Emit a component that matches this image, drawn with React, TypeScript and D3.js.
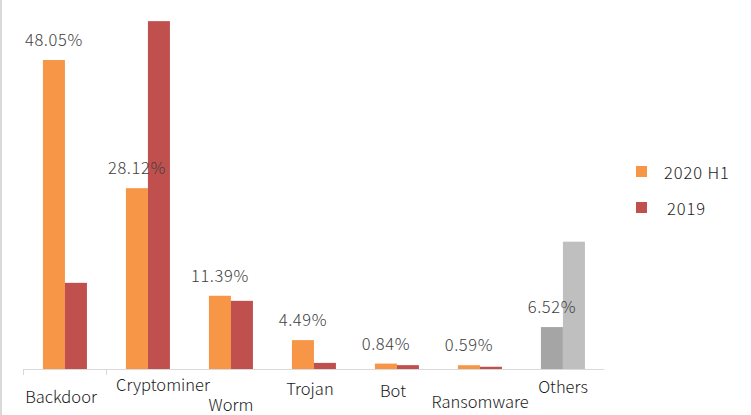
import React from "react";
import * as d3 from "d3";

const categories = ["Backdoor", "Cryptominer", "Worm", "Trojan", "Bot", "Ransomware", "Others"];
const series2020H1 = [48.05, 28.12, 11.39, 4.49, 0.84, 0.59, 6.52];
const series2019 = [13.4, 54.1, 10.6, 0.95, 0.6, 0.35, 19.8];
const valueLabels = ["48.05%", "28.12%", "11.39%", "4.49%", "0.84%", "0.59%", "6.52%"];
const seriesNames = ["2020 H1", "2019"];

// label layout (offset from band centre, baseline y)
const labelLayout = [
  { dx: -3.5, y: 403 },
  { dx: 15.5, y: 391 },
  { dx: 0.5, y: 411 },
  { dx: -3.5, y: 395 },
  { dx: -3.5, y: 397 },
  { dx: 0.5, y: 408 },
  { dx: 0.5, y: 393 },
];

const W = 751;
const H = 415;
const baseY = 369;
const FONT = "'Noto Sans CJK SC', 'Noto Sans', sans-serif";

export default function App() {
  const x = d3.scaleBand<string>().domain(categories).range([23, 604]).padding(0);
  const inner = d3.scaleBand<string>().domain(seriesNames).range([x.bandwidth() * 0.24, x.bandwidth() * 0.24 + 44]).padding(0);
  const y = d3.scaleLinear().domain([0, 56]).range([baseY, baseY - 56 * 6.43]);

  const colors = (ci: number, si: number) => {
    if (categories[ci] === "Others") return si === 0 ? "#A5A5A5" : "#BFBFBF";
    return si === 0 ? "#F79646" : "#C0504D";
  };

  return (
    <svg width={W} height={H} style={{ position: "absolute", left: 0, top: 0, background: "#fff" }}>
      <rect x={0} y={0} width={W} height={H} fill="#fff" />
      <rect x={0} y={0} width={2} height={H} fill="#D9D9D9" />
      {categories.map((c, ci) =>
        [series2020H1, series2019].map((s, si) => {
          const x0 = (x(c) as number) + (inner(seriesNames[si]) as number);
          return (
            <rect
              key={c + si}
              x={x0}
              y={y(s[ci])}
              width={inner.bandwidth()}
              height={baseY - y(s[ci])}
              fill={colors(ci, si)}
            />
          );
        })
      )}
      <line x1={23} x2={604} y1={baseY + 0.5} y2={baseY + 0.5} stroke="#D9D9D9" strokeWidth={1} />
      {[categories[0], categories[1]].map((c) => (
        <line key={"t" + c} x1={(x(c) as number) + 0.5} x2={(x(c) as number) + 0.5} y1={baseY} y2={baseY + 6} stroke="#D9D9D9" />
      ))}
      {categories.map((c, ci) => {
        const cx = (x(c) as number) + (inner(seriesNames[0]) as number) + inner.bandwidth() / 2;
        return (
          <text key={"v" + c} x={cx} y={y(series2020H1[ci]) - 14} textAnchor="middle" fontFamily={FONT} fontSize={16.5} fontWeight={300} letterSpacing={0.6} fill="#404040">
            {valueLabels[ci]}
          </text>
        );
      })}
      {categories.map((c, ci) => (
        <text
          key={"c" + c}
          x={(x(c) as number) + x.bandwidth() / 2 + labelLayout[ci].dx}
          y={labelLayout[ci].y}
          textAnchor="middle"
          fontFamily={FONT}
          fontSize={16.5}
          fontWeight={300}
          fill="#1a1a1a"
        >
          {c}
        </text>
      ))}
      {seriesNames.map((n, si) => (
        <g key={"l" + n}>
          <rect x={636} y={166 + si * 36} width={11} height={11} fill={si === 0 ? "#F79646" : "#C0504D"} />
          <text x={si === 0 ? 664 : 667} y={179 + si * 36} fontFamily={FONT} fontSize={16.5} fontWeight={300} letterSpacing={0.9} fill="#1a1a1a">
            {n}
          </text>
        </g>
      ))}
    </svg>
  );
}
